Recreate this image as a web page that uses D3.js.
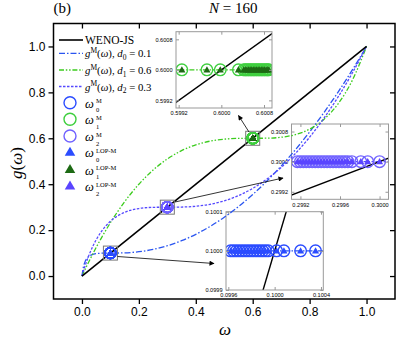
<!DOCTYPE html>
<html>
<head>
<meta charset="utf-8">
<style>
body {margin:0; background:#fff;}
svg {display:block;}
</style>
</head>
<body>
<div id="my_dataviz"></div>
<script src="https://d3js.org/d3.v7.min.js"></script>
<script>
// omega grid and the mapped weights g^M(omega)
var omega = [0, 0.005, 0.01, 0.02, 0.03, 0.05, 0.07, 0.1, 0.15, 0.2, 0.25, 0.3, 0.35, 0.4, 0.45, 0.5, 0.55, 0.6, 0.65, 0.7, 0.75, 0.8, 0.85, 0.9, 0.95, 1.0]
var gD0 = [0, 0.0388, 0.0595, 0.0803, 0.0899, 0.0975, 0.0996, 0.1, 0.101, 0.1059, 0.1161, 0.132, 0.1539, 0.1818, 0.2159, 0.2561, 0.3025, 0.3551, 0.4139, 0.4789, 0.5502, 0.6277, 0.7114, 0.8014, 0.8976, 1.0]
var gD1 = [0, 0.0132, 0.0263, 0.0519, 0.0769, 0.1246, 0.1697, 0.2324, 0.3239, 0.4, 0.4617, 0.51, 0.5461, 0.5714, 0.5875, 0.5962, 0.5995, 0.6, 0.6005, 0.6045, 0.6161, 0.64, 0.6822, 0.75, 0.8524, 1.0]
var gD2 = [0, 0.021, 0.0405, 0.076, 0.107, 0.158, 0.1969, 0.2385, 0.2775, 0.2941, 0.2993, 0.3, 0.3005, 0.304, 0.3125, 0.3276, 0.3504, 0.3818, 0.4225, 0.473, 0.5337, 0.6049, 0.6869, 0.78, 0.8843, 1.0]
var wenoJS = [[0, 0], [1, 1]]
var dValues = [0.1, 0.6, 0.3]

var mainDomain = [-0.1, 1.1]
var mainTicks = [0, 0.2, 0.4, 0.6, 0.8, 1.0]

// weights omega_k^M / omega_k^LOP-M clustered around d_k (same positions for both)
var w0 = [0.09962, 0.099645, 0.09967, 0.099695, 0.09972, 0.099745, 0.09977, 0.099795, 0.09982, 0.099845, 0.09987, 0.099895, 0.09992, 0.099945, 0.100017, 0.10008, 0.100224, 0.100353]
var w1 = [0.59926, 0.59973, 0.59998, 0.60032, 0.60042, 0.60045, 0.60048, 0.60051, 0.60054, 0.60057, 0.6006, 0.60063, 0.60066, 0.60069, 0.60072, 0.60075, 0.60078, 0.60081, 0.60084, 0.60087, 0.60089]
var w2 = [0.29917, 0.2992, 0.29923, 0.29926, 0.29929, 0.29932, 0.29935, 0.29938, 0.29941, 0.29944, 0.29947, 0.2995, 0.29953, 0.29956, 0.29959, 0.29962, 0.29965, 0.29968, 0.29972, 0.29981, 0.29988, 0.3]
var weights = [w0, w1, w2]

// inset axes
var inset0X = [0.09958, 0.10042], inset0Y = [0.0999, 0.1001]
var inset0XTicks = [0.0996, 0.1000, 0.1004], inset0YTicks = [0.0999, 0.1000, 0.1001]
var inset1X = [0.59915, 0.60095], inset1Y = [0.5990, 0.6010]
var inset1XTicks = [0.5992, 0.6000, 0.6008], inset1YTicks = [0.5992, 0.6000, 0.6008]
var inset2X = [0.29911, 0.30009], inset2Y = [0.2990, 0.3010]
var inset2XTicks = [0.2992, 0.2996, 0.3000], inset2YTicks = [0.2992, 0.3000, 0.3008]

var lineColor = ["#2a55f0", "#3ccc1e", "#5548ff"]
var circleColor = ["#2b4cff", "#3fcf3f", "#7062ff"]
var triColor = ["#2b4cff", "#1d6a14", "#5a44ff"]
var dashes = ["6,2,1.5,2", "5,1.8,1.5,1.8,1.5,1.8", "2.5,1.5"]

var width = 397, height = 341
var serif = "'Liberation Serif', 'Times New Roman', serif"
var sans = "'Liberation Sans', Arial, sans-serif"

var svg = d3.select("#my_dataviz")
  .append("svg")
    .attr("width", width)
    .attr("height", height)

var plotL = 53.5, plotR = 395, plotT = 23.5, plotB = 299
var x = d3.scaleLinear().domain(mainDomain).range([plotL, plotR])
var y = d3.scaleLinear().domain(mainDomain).range([plotB, plotT])

function styleAxis(g, size) {
  g.select(".domain").remove()
  g.attr("font-family", sans).attr("font-size", size)
  g.selectAll("text").attr("fill", "#000")
}

// main axes: outward ticks on left/bottom, inward mirrors on top/right
var mainAxes = svg.append("g")
mainAxes.append("g").attr("transform", "translate(0," + plotB + ")")
  .call(d3.axisBottom(x).tickValues(mainTicks).tickFormat(d3.format(".1f")).tickSize(5).tickPadding(3))
  .call(g => styleAxis(g, 12))
mainAxes.append("g").attr("transform", "translate(" + plotL + ",0)")
  .call(d3.axisLeft(y).tickValues(mainTicks).tickFormat(d3.format(".1f")).tickSize(5).tickPadding(3))
  .call(g => styleAxis(g, 12))
mainAxes.append("g").attr("transform", "translate(0," + plotT + ")")
  .call(d3.axisTop(x).tickValues(mainTicks).tickFormat("").tickSize(-5))
  .call(g => styleAxis(g, 12))
mainAxes.append("g").attr("transform", "translate(" + plotR + ",0)")
  .call(d3.axisRight(y).tickValues(mainTicks).tickFormat("").tickSize(-5))
  .call(g => styleAxis(g, 12))
mainAxes.selectAll(".tick line").attr("stroke", "#000").attr("stroke-width", 1.3)

svg.append("rect")
  .attr("x", plotL).attr("y", plotT)
  .attr("width", plotR - plotL).attr("height", plotB - plotT)
  .attr("fill", "none").attr("stroke", "#000").attr("stroke-width", 1.5)

var tri = d3.symbol().type(d3.symbolTriangle)

// insets
var insets = [
  {id: "ins0", k: 0, box: [226, 211.7, 323.3, 290], xDom: inset0X, yDom: inset0Y, xTicks: inset0XTicks, yTicks: inset0YTicks},
  {id: "ins1", k: 1, box: [176, 31.7, 272, 108], xDom: inset1X, yDom: inset1Y, xTicks: inset1XTicks, yTicks: inset1YTicks},
  {id: "ins2", k: 2, box: [291.5, 124, 388.5, 199.3], xDom: inset2X, yDom: inset2Y, xTicks: inset2XTicks, yTicks: inset2YTicks}
]

insets.forEach(function(o) {
  var b = o.box
  var xs = d3.scaleLinear().domain(o.xDom).range([b[0], b[2]])
  var ys = d3.scaleLinear().domain(o.yDom).range([b[3], b[1]])
  var g = svg.append("g")
  g.append("clipPath").attr("id", o.id).append("rect")
    .attr("x", b[0]).attr("y", b[1]).attr("width", b[2] - b[0]).attr("height", b[3] - b[1])
  g.append("rect")
    .attr("x", b[0]).attr("y", b[1]).attr("width", b[2] - b[0]).attr("height", b[3] - b[1])
    .attr("fill", o.k == 2 ? "none" : "#fff")

  var inner = g.append("g").attr("clip-path", "url(#" + o.id + ")")
  var l = d3.line().x(d => xs(d[0])).y(d => ys(d[1]))
  inner.append("path")
    .datum([[o.xDom[0], dValues[o.k]], [o.xDom[1], dValues[o.k]]])
    .attr("d", l).attr("fill", "none")
    .attr("stroke", lineColor[o.k]).attr("stroke-width", 1.3).attr("stroke-dasharray", dashes[o.k])
  inner.append("path")
    .datum(wenoJS)
    .attr("d", l).attr("fill", "none").attr("stroke", "#000").attr("stroke-width", 1.4)
  inner.selectAll("circle")
    .data(weights[o.k])
    .enter()
    .append("circle")
      .attr("cx", d => xs(d)).attr("cy", ys(dValues[o.k])).attr("r", 5.8)
      .attr("fill", "none").attr("stroke", circleColor[o.k]).attr("stroke-width", 1.4)
  inner.selectAll(".tri")
    .data(weights[o.k])
    .enter()
    .append("path")
      .attr("d", tri.size(22))
      .attr("transform", d => "translate(" + xs(d) + "," + (ys(dValues[o.k]) + 0.5) + ")")
      .attr("fill", triColor[o.k])

  var fmt = d3.format(".4f")
  var ax = [
    g.append("g").attr("transform", "translate(0," + b[3] + ")").call(d3.axisBottom(xs).tickValues(o.xTicks).tickFormat(fmt).tickSize(-3).tickPadding(3.5)),
    g.append("g").attr("transform", "translate(" + b[0] + ",0)").call(d3.axisLeft(ys).tickValues(o.yTicks).tickFormat(fmt).tickSize(-3).tickPadding(3.5)),
    g.append("g").attr("transform", "translate(0," + b[1] + ")").call(d3.axisTop(xs).tickValues(o.xTicks).tickFormat("").tickSize(-3)),
    g.append("g").attr("transform", "translate(" + b[2] + ",0)").call(d3.axisRight(ys).tickValues(o.yTicks).tickFormat("").tickSize(-3))
  ]
  ax.forEach(a => { styleAxis(a, 5.6); a.selectAll("line").attr("stroke", "#999") })
  g.append("rect")
    .attr("x", b[0]).attr("y", b[1]).attr("width", b[2] - b[0]).attr("height", b[3] - b[1])
    .attr("fill", "none").attr("stroke", "#999").attr("stroke-width", 1)
})

// main curves
var line = d3.line().x(d => x(d[0])).y(d => y(d[1])).curve(d3.curveMonotoneX)
var curves = [gD0, gD1, gD2]
curves.forEach(function(vals, k) {
  svg.append("path")
    .datum(d3.zip(omega, vals))
    .attr("d", line)
    .attr("fill", "none")
    .attr("stroke", lineColor[k]).attr("stroke-width", 1.3)
    .attr("stroke-dasharray", dashes[k])
})
svg.append("path")
  .datum(wenoJS)
  .attr("d", line).attr("fill", "none").attr("stroke", "#000").attr("stroke-width", 1.6)

// zoom boxes and clustered weights in the main plot
svg.selectAll(".zbox")
  .data(dValues)
  .enter()
  .append("rect")
    .attr("x", d => x(d) - 7).attr("y", d => y(d) - 7)
    .attr("width", 14).attr("height", 14)
    .attr("fill", "none").attr("stroke", "#777").attr("stroke-width", 1)

weights.forEach(function(ws, k) {
  svg.append("g").selectAll("circle")
    .data(ws)
    .enter()
    .append("circle")
      .attr("cx", d => x(d)).attr("cy", y(dValues[k])).attr("r", 5.5)
      .attr("fill", "none").attr("stroke", circleColor[k]).attr("stroke-width", 1.5)
  svg.append("g").selectAll("path")
    .data(ws)
    .enter()
    .append("path")
      .attr("d", tri.size(22))
      .attr("transform", d => "translate(" + x(d) + "," + (y(dValues[k]) + 0.5) + ")")
      .attr("fill", triColor[k])
})

// arrows from boxes to insets
svg.append("defs").append("marker")
  .attr("id", "arrow").attr("viewBox", "0 0 10 10")
  .attr("refX", 9).attr("refY", 5)
  .attr("markerWidth", 7).attr("markerHeight", 5)
  .attr("markerUnits", "userSpaceOnUse")
  .attr("orient", "auto")
  .append("path").attr("d", "M0,0L10,5L0,10z").attr("fill", "#000")

var arrows = [[117.5, 256.5, 214, 263.5], [175, 202, 283, 178], [249, 132, 238.5, 115.5]]
svg.selectAll(".arrow")
  .data(arrows)
  .enter()
  .append("line")
    .attr("x1", d => d[0]).attr("y1", d => d[1]).attr("x2", d => d[2]).attr("y2", d => d[3])
    .attr("stroke", "#000").attr("stroke-width", 0.8)
    .attr("marker-end", "url(#arrow)")

// legend
var legendY = [40, 53.3, 70, 86.5, 102.7, 119.3, 136, 152.3, 169.5, 186]
var leg = svg.append("g").attr("font-family", serif).attr("fill", "#000")

leg.append("line").attr("x1", 59).attr("x2", 83).attr("y1", legendY[0]).attr("y2", legendY[0])
  .attr("stroke", "#000").attr("stroke-width", 1.6)
leg.append("text").attr("x", 85).attr("y", legendY[0] + 4).attr("font-size", 11.5).text("WENO-JS")

dValues.forEach(function(dv, k) {
  var yy = legendY[k + 1]
  leg.append("line").attr("x1", 59).attr("x2", 83).attr("y1", yy).attr("y2", yy)
    .attr("stroke", lineColor[k]).attr("stroke-width", 1.3).attr("stroke-dasharray", dashes[k])
  var t = leg.append("text").attr("x", 85).attr("y", yy + 4).attr("font-size", 10.8)
  t.append("tspan").attr("font-style", "italic").text("g")
  t.append("tspan").attr("dy", -4.5).attr("font-size", 7.5).text("M")
  t.append("tspan").attr("dy", 4.5).text("(")
  t.append("tspan").attr("font-style", "italic").text("ω")
  t.append("tspan").text("), ")
  t.append("tspan").attr("font-style", "italic").text("d")
  t.append("tspan").attr("dy", 2.5).attr("font-size", 7.5).text(k)
  t.append("tspan").attr("dy", -2.5).text(" = " + dv)
})

;[0, 1, 2].forEach(function(k) {
  var yc = legendY[4 + k], yt = legendY[7 + k]
  leg.append("circle").attr("cx", 70).attr("cy", yc).attr("r", 6)
    .attr("fill", "none").attr("stroke", circleColor[k]).attr("stroke-width", 1.4)
  leg.append("path").attr("d", tri.size(48)).attr("transform", "translate(70," + (yt + 0.5) + ")")
    .attr("fill", triColor[k])
  ;[[yc, "M"], [yt, "LOP-M"]].forEach(function(r) {
    leg.append("text").attr("x", 85).attr("y", r[0] + 5).attr("font-size", 12.5)
      .attr("font-style", "italic").text("ω")
    leg.append("text").attr("x", 96).attr("y", r[0] + 0.5).attr("font-size", 6.5).text(r[1])
    leg.append("text").attr("x", 96).attr("y", r[0] + 9.5).attr("font-size", 6.5).text(k)
  })
})

// titles
svg.append("text").attr("x", 53.5).attr("y", 13).attr("font-family", serif).attr("font-size", 15).text("(b)")
var nt = svg.append("text").attr("x", 209).attr("y", 13).attr("font-family", serif).attr("font-size", 15)
nt.append("tspan").attr("font-style", "italic").text("N")
nt.append("tspan").text(" = 160")

svg.append("text")
  .attr("transform", "translate(22,163) rotate(-90)")
  .attr("text-anchor", "middle")
  .attr("font-family", serif).attr("font-size", 17)
  .html("<tspan font-style='italic'>g</tspan>(<tspan font-style='italic'>ω</tspan>)")

svg.append("text")
  .attr("x", 225).attr("y", 335)
  .attr("text-anchor", "middle")
  .attr("font-family", serif).attr("font-size", 17).attr("font-style", "italic")
  .text("ω")
</script>
</body>
</html>
